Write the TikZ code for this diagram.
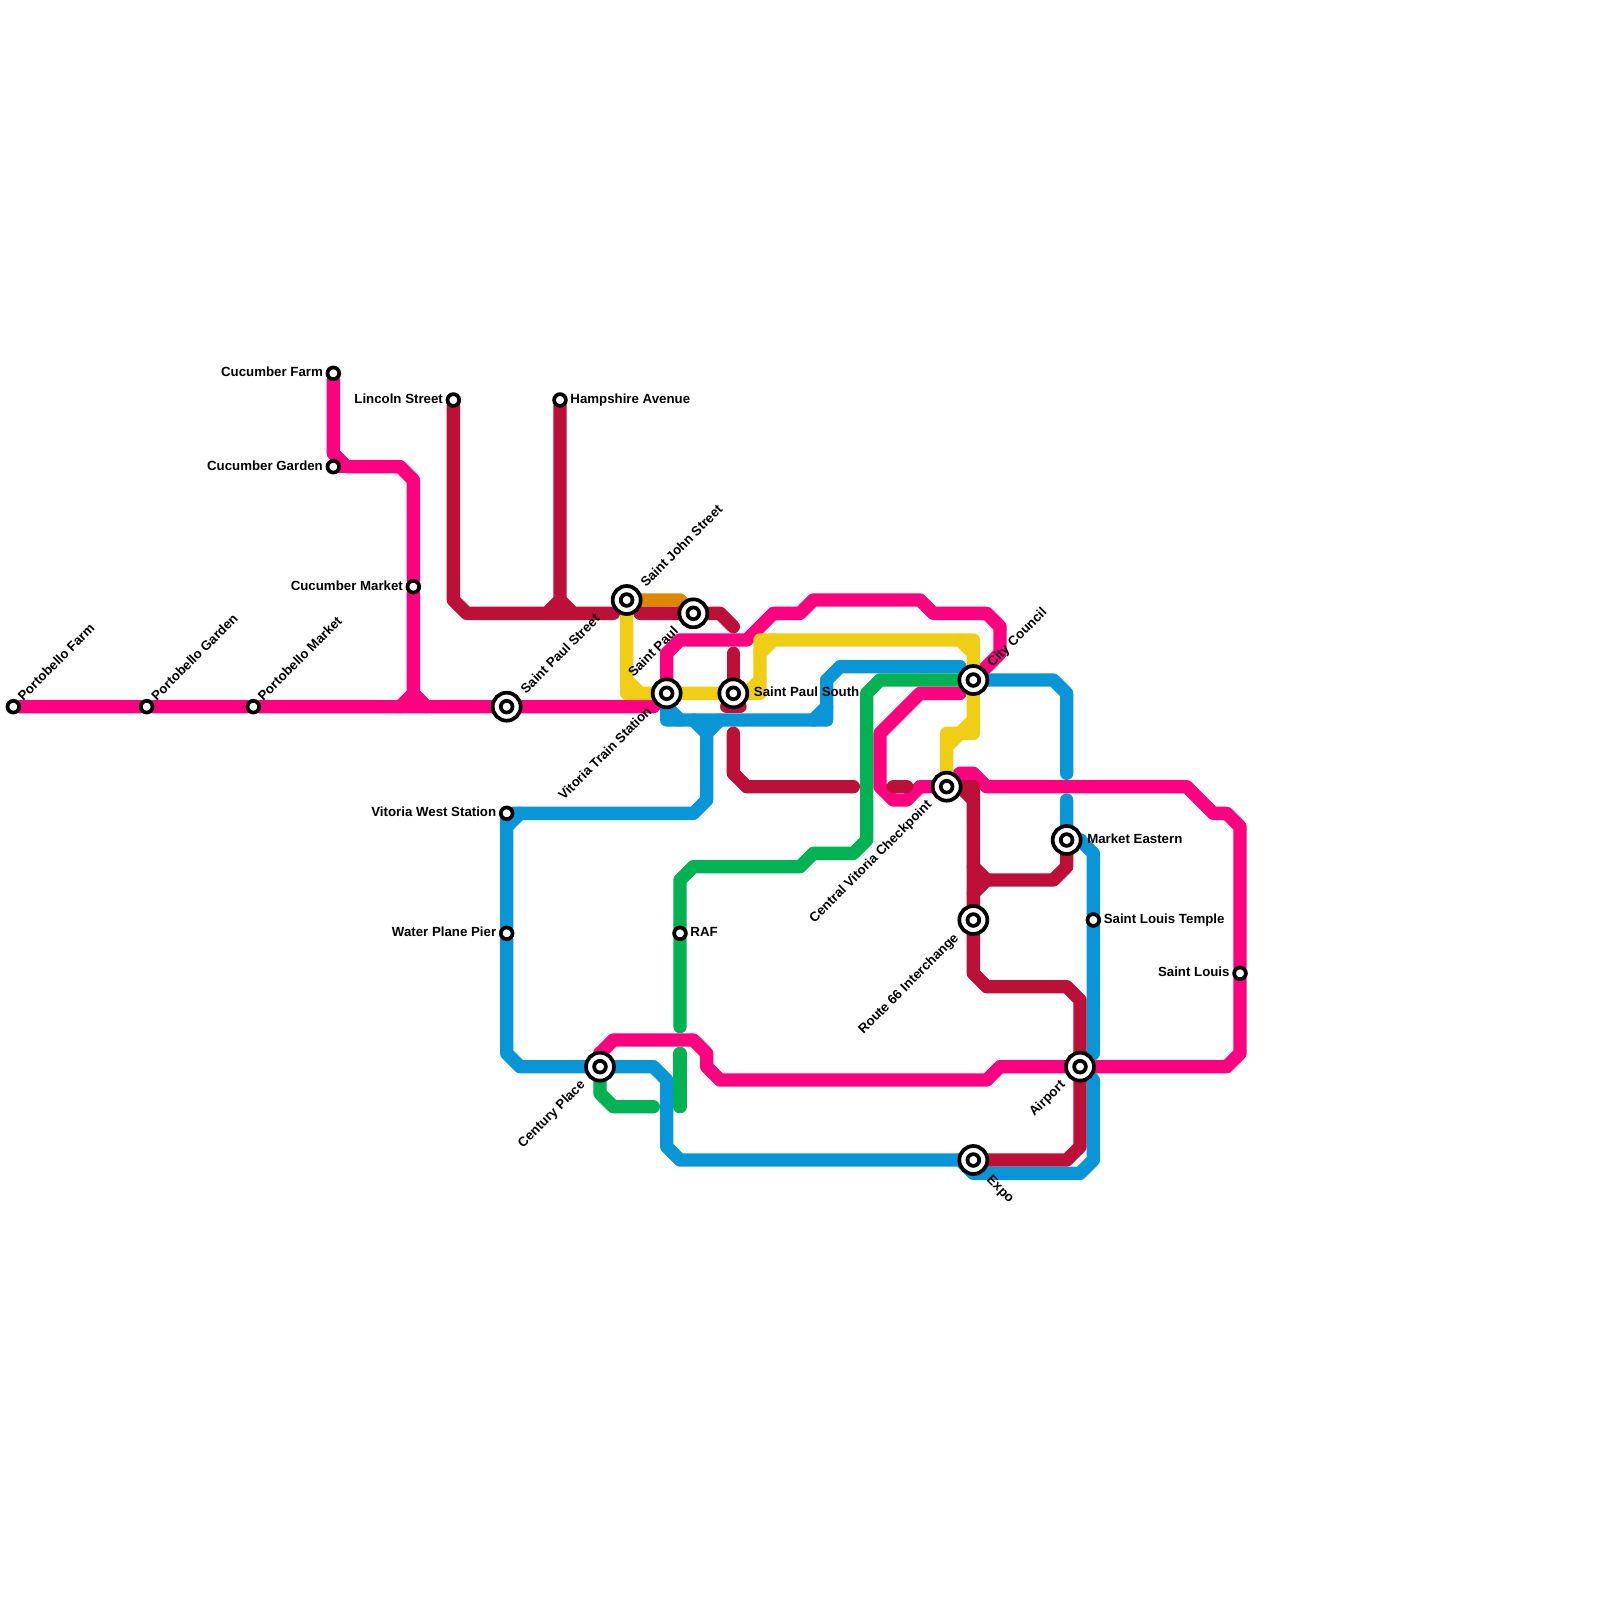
\documentclass[tikz,border=0pt]{standalone}
\usepackage{fontspec}
\setmainfont{Liberation Sans}
\usetikzlibrary{positioning, backgrounds}
\definecolor{mapPink}{HTML}{FF0080}
\definecolor{mapRed}{HTML}{BD1038}
\definecolor{mapBlue}{HTML}{0896D7}
\definecolor{mapGreen}{HTML}{00B251}
\definecolor{mapYellow}{HTML}{F0CE15}
\definecolor{mapOrange}{HTML}{DF8600}
\begin{document}
\begin{tikzpicture}[
  x=10pt, y=-10pt,
  stn/.style={draw, circle, fill=white, line width=2.8pt, minimum size=8.8pt, inner sep=0pt, outer sep=0pt},
  bigstn/.style={draw, circle, fill=white, line width=2.8pt, minimum size=21pt, inner sep=0pt, outer sep=0pt,
                 path picture={\draw[line width=2.8pt] (path picture bounding box.center) circle (4.4pt);}},
  lab/.style={font=\fontsize{9.95}{11}\selectfont\bfseries, inner sep=0pt, text height=1.5ex, text depth=0.3ex},
  labe/.style={lab, anchor=west, xshift=3.25pt, yshift=0.45pt},
  labw/.style={lab, anchor=east, xshift=-3.25pt, yshift=0.45pt},
  labbe/.style={lab, anchor=west, xshift=4.75pt, yshift=0.45pt},
  labne/.style={lab, rotate=45, anchor=west, xshift=3.6pt, yshift=0.6pt},
  labbne/.style={lab, rotate=45, anchor=west, xshift=6.1pt, yshift=-0.6pt},
  labsw/.style={lab, rotate=45, anchor=east, xshift=-7pt, yshift=0.7pt},
  labse/.style={lab, rotate=-45, anchor=west, xshift=7pt, yshift=-1pt},
  metro/.style={line width=10pt, line cap=round, line join=round},
  pinkl/.style={metro, mapPink},
  redl/.style={metro, mapRed},
  bluel/.style={metro, mapBlue},
  greenl/.style={metro, mapGreen},
  yellowl/.style={metro, mapYellow},
  orangel/.style={metro, mapOrange}
]
  \useasboundingbox (0,0) rectangle (120,120);

  % stations
  \node[stn]    (pfarm)   at (1,53)  {};
  \node[stn]    (pgarden) at (11,53) {};
  \node[stn]    (pmarket) at (19,53) {};
  \node[stn]    (cfarm)   at (25,28) {};
  \node[stn]    (cgarden) at (25,35) {};
  \node[stn]    (cmarket) at (31,44) {};
  \node[stn]    (lincoln) at (34,30) {};
  \node[stn]    (hamp)    at (42,30) {};
  \node[stn]    (vwest)   at (38,61) {};
  \node[stn]    (water)   at (38,70) {};
  \node[stn]    (raf)     at (51,70) {};
  \node[stn]    (temple)  at (82,69) {};
  \node[stn]    (slouis)  at (93,73) {};
  \node[bigstn] (spstr)   at (38,53) {};
  \node[bigstn] (sjohn)   at (47,45) {};
  \node[bigstn] (spaul)   at (52,46) {};
  \node[bigstn] (vtrain)  at (50,52) {};
  \node[bigstn] (spsouth) at (55,52) {};
  \node[bigstn] (city)    at (73,51) {};
  \node[bigstn] (central) at (71,59) {};
  \node[bigstn] (market)  at (80,63) {};
  \node[bigstn] (route)   at (73,69) {};
  \node[bigstn] (airport) at (81,80) {};
  \node[bigstn] (century) at (45,80) {};
  \node[bigstn] (expo)    at (73,87) {};

  % labels
  \node[labne]  (lpfarm)   at (pfarm.45)     {Portobello Farm};
  \node[labne]  (lpgarden) at (pgarden.45)   {Portobello Garden};
  \node[labne]  (lpmarket) at (pmarket.45)   {Portobello Market};
  \node[labw]   (lcfarm)   at (cfarm.west)   {Cucumber Farm};
  \node[labw]   (lcgarden) at (cgarden.west) {Cucumber Garden};
  \node[labw]   (lcmarket) at (cmarket.west) {Cucumber Market};
  \node[labw]   (llincoln) at (lincoln.west) {Lincoln Street};
  \node[labe]   (lhamp)    at (hamp.east)    {Hampshire Avenue};
  \node[labbne] (lspstr)   at (spstr.45)     {Saint Paul Street};
  \node[labbne] (lsjohn)   at (sjohn.45)     {Saint John Street};
  \node[labsw]  (lspaul)   at (spaul.225)    {Saint Paul};
  \node[labsw]  (lvtrain)  at (vtrain.225)   {Vitoria Train Station};
  \node[labbe]  (lspsouth) at (spsouth.east) {Saint Paul South};
  \node[labbne] (lcity)    at (city.45)      {City Council};
  \node[labsw]  (lcentral) at (central.225)  {Central Vitoria Checkpoint};
  \node[labbe]  (lmarket)  at (market.east)  {Market Eastern};
  \node[labe]   (ltemple)  at (temple.east)  {Saint Louis Temple};
  \node[labw]   (lslouis)  at (slouis.west)  {Saint Louis};
  \node[labsw]  (lroute)   at (route.225)    {Route 66 Interchange};
  \node[labsw]  (lairport) at (airport.225)  {Airport};
  \node[labsw]  (lcentury) at (century.225)  {Century Place};
  \node[labse]  (lexpo)    at (expo.315)     {Expo};
  \node[labw]   (lvwest)   at (vwest.west)   {Vitoria West Station};
  \node[labw]   (lwater)   at (water.west)   {Water Plane Pier};
  \node[labe]   (lraf)     at (raf.east)     {RAF};

  \begin{scope}[on background layer]
    % pink
    \draw[pinkl] (pfarm) -- (pgarden) -- (pmarket) -- (spstr) -- (49,53) -- (vtrain);
    \draw[pinkl] (cfarm) -- (25,34) -- (26,35) -- (30,35) -- (31,36) -- (cmarket) -- (31,52) -- (30,53);
    \draw[pinkl] (cgarden) -- (26,35);
    \draw[pinkl] (31,52) -- (32,53);
    \draw[pinkl] (vtrain) -- (50,49) -- (51,48) -- (56,48) -- (58,46) -- (60,46) -- (61,45) -- (69,45)
                 -- (70,46) -- (74,46) -- (75,47) -- (75,49) -- (city);
    \draw[pinkl] (72,52) -- (69,52) -- (66,55) -- (66,59) -- (67,60) -- (68,60) -- (69,59) -- (central);
    \draw[pinkl] (central) -- (72,58) -- (73,58) -- (74,59) -- (89,59) -- (91,61) -- (92,61) -- (93,62)
                 -- (slouis) -- (93,79) -- (92,80) -- (airport) -- (75,80) -- (74,81) -- (54,81) -- (53,80)
                 -- (53,79) -- (52,78) -- (46,78) -- (45,79) -- (century);
    % yellow
    \draw[yellowl] (sjohn) -- (47,52) -- (vtrain) -- (spsouth) -- (57,52) -- (57,48) -- (73,48) -- (73,55) -- (72,55) -- (71,56);
    \draw[yellowl] (47,51) -- (48,52);
    \draw[yellowl] (56,52) -- (57,51);
    \draw[yellowl] (57,49) -- (58,48);
    \draw[yellowl] (72,48) -- (73,49);
    \draw[yellowl] (73,54) -- (72,55) -- (71,55) -- (central);
    % orange
    \draw[orangel] (sjohn) -- (51,45) -- (spaul);
    % green
    \draw[greenl] (city) -- (66,51) -- (65,52) -- (65,63) -- (64,64) -- (61,64) -- (60,65) -- (52,65) -- (51,66) -- (raf) -- (51,77);
    \draw[greenl] (51,79) -- (51,83);
    \draw[greenl] (century) -- (45,82) -- (46,83) -- (49,83);
    % blue
    \draw[bluel] (water) -- (vwest) -- (52,61) -- (53,60) -- (53,55) -- (52,54);
    \draw[bluel] (38,62) -- (39,61);
    \draw[bluel] (53,55) -- (54,54);
    \draw[bluel] (water) -- (38,79) -- (39,80) -- (century) -- (49,80) -- (50,81) -- (50,86) -- (51,87) -- (expo);
    \draw[bluel] (72,87) -- (73,88) -- (81,88) -- (82,87) -- (82,81) -- (81,80);
    \draw[bluel] (vtrain) -- (50,54) -- (62,54) -- (62,51) -- (63,50) -- (72,50);
    \draw[bluel] (50,53) -- (51,54);
    \draw[bluel] (61,54) -- (62,53);
    \draw[bluel] (city) -- (79,51) -- (80,52) -- (80,58);
    \draw[bluel] (80,60) -- (market) -- (81,63) -- (82,64) -- (temple) -- (82,79) -- (airport);
    % red
    \draw[redl] (lincoln) -- (34,45) -- (35,46) -- (46,46);
    \draw[redl] (hamp) -- (42,45) -- (41,46);
    \draw[redl] (42,45) -- (43,46);
    \draw[redl] (48,46) -- (spaul) -- (54,46) -- (55,47);
    \draw[redl] (55,49) -- (spsouth);
    \draw[redl] (54.5,53) -- (55.5,53);
    \draw[redl] (55,55) -- (55,58) -- (56,59) -- (64,59);
    \draw[redl] (67,59) -- (68,59);
    \draw[redl] (central) -- (73,59) -- (route) -- (73,73) -- (74,74) -- (80,74) -- (81,75) -- (airport) -- (81,86) -- (80,87) -- (expo);
    \draw[redl] (72,59) -- (73,60);
    \draw[redl] (market) -- (80,65) -- (79,66) -- (74,66) -- (73,65);
    \draw[redl] (74,66) -- (73,67);
  \end{scope}
\end{tikzpicture}
\end{document}
